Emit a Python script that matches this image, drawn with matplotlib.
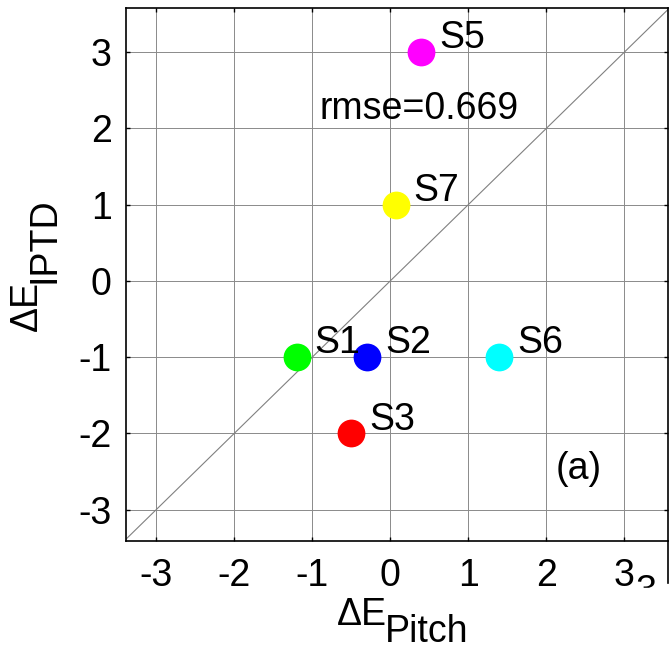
import numpy as np
import matplotlib
matplotlib.use('Agg')
import matplotlib.pyplot as plt
from matplotlib.lines import Line2D
from matplotlib.patches import Rectangle

plt.rcParams['font.family'] = ['Liberation Sans', 'DejaVu Sans']
plt.rcParams['axes.unicode_minus'] = False

# subjects: delta E from pitch vs delta E from IPTD
names = ['S1', 'S2', 'S3', 'S5', 'S6', 'S7']
d_pitch = [-1.2, -0.3, -0.5, 0.4, 1.4, 0.07]
d_iptd = [-1, -1, -2, 3, -1, 1]
colors = ['#00ff00', '#0000ff', '#ff0000', '#ff00ff', '#00ffff', '#ffff00']
ticks = [-3, -2, -1, 0, 1, 2, 3]
rmse_txt = 'rmse=0.669'
panel = '(a)'

FS = 27

fig = plt.figure(figsize=(6.71, 6.49), dpi=100)
ax = fig.add_axes([0.1873, 0.1664, 0.8082, 0.8213])

ax.set_xlim(-3.39, 3.56)
ax.set_ylim(-3.41, 3.58)
ax.set_xticks(ticks)
ax.set_yticks(ticks)
ax.grid(True, color='#8a8a8a', lw=0.7, ls='-')
ax.set_axisbelow(True)
ax.tick_params(direction='in', length=3, width=1, labelsize=FS,
               top=True, right=True, pad=12)
ax.tick_params(axis='y', pad=10)
for s in ax.spines.values():
    s.set_linewidth(1.2)

# identity line
ax.plot([-5, 5], [-5, 5], color='#808080', lw=0.8, zorder=2)

for n, x, y, c in zip(names, d_pitch, d_iptd, colors):
    ax.plot(x, y, 'o', color=c, markersize=20, markeredgewidth=0, zorder=3)
    ax.annotate(n, (x, y), xytext=(13, 10), textcoords='offset points',
                fontsize=FS, ha='left', va='center', zorder=4)

ax.text(-0.9, 2.26, rmse_txt, fontsize=FS, ha='left', va='center')
ax.text(2.41, -2.47, panel, fontsize=FS, ha='center', va='center')

# axis labels with full-size lowered subscripts
fig.text(337 / 671, 1 - 625 / 649, '\u0394E', fontsize=FS, ha='left', va='baseline')
fig.text(385 / 671, 1 - 642 / 649, 'Pitch', fontsize=FS, ha='left', va='baseline')
fig.text(45 / 671, 1 - 331 / 649, '\u0394E', fontsize=FS, rotation=90,
         ha='right', va='bottom')
fig.text(63 / 671, 1 - 283 / 649, 'IPTD', fontsize=FS, rotation=90,
         ha='right', va='bottom')

# clipped remnants at the lower right corner
fig.text(636 / 671, 1 - 574 / 649, '3', fontsize=FS, ha='left', va='top')
fig.add_artist(Rectangle((632 / 671, 0), 39 / 671, 1 - 588 / 649,
                         transform=fig.transFigure, color='white', zorder=10))
fig.add_artist(Line2D([668 / 671, 668 / 671], [1 - 541 / 649, 1 - 583 / 649],
                      transform=fig.transFigure, color='black', lw=1.2, zorder=11))

fig.savefig('out.png', dpi=100)
